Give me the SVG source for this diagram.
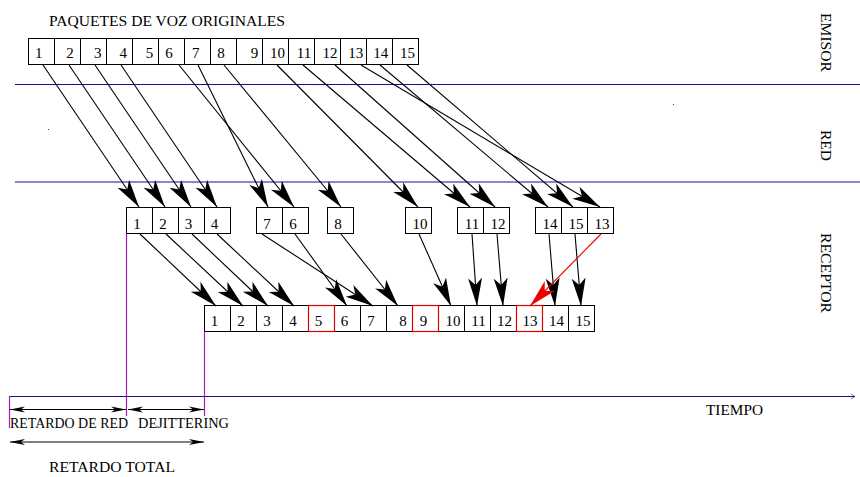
<svg xmlns="http://www.w3.org/2000/svg" width="860" height="477" viewBox="0 0 860 477">
  <style>
    .box { fill: #ffffff; stroke: #000000; stroke-width: 1; }
    .lost { fill: none; stroke: #e00000; stroke-width: 1.2; }
    .num { font-family: "Liberation Serif", "Times New Roman", serif; font-size: 15px; fill: #000000; text-anchor: middle; }
    .lbl { font-family: "Liberation Serif", "Times New Roman", serif; font-size: 14.5px; fill: #000000; }
    .side { font-family: "Liberation Serif", "Times New Roman", serif; font-size: 15.5px; fill: #000000; }
    .zone { stroke: #10109a; stroke-width: 1; fill: none; }
    .mark { stroke: #a020b0; stroke-width: 1.2; fill: none; }
    .flow { stroke: #000000; stroke-width: 1.1; fill: none; marker-end: url(#head); }
    .flow-red { stroke: #ee0000; stroke-width: 1.1; fill: none; marker-end: url(#head-red); }
    .span { stroke: #000000; stroke-width: 1; fill: none; marker-start: url(#tick-s); marker-end: url(#tick-e); }
  </style>
  <defs>
    <marker id="head" markerUnits="userSpaceOnUse" markerWidth="30" markerHeight="16" viewBox="0 0 30 16" refX="28" refY="8" orient="auto">
      <path d="M0,1 L28,8 L0,15 L7,8 Z" fill="#000000"/>
    </marker>
    <marker id="head-red" markerUnits="userSpaceOnUse" markerWidth="30" markerHeight="16" viewBox="0 0 30 16" refX="28" refY="8" orient="auto">
      <path d="M0,1 L28,8 L0,15 L7,8 Z" fill="#ee0000"/>
    </marker>
    <marker id="tick-e" markerUnits="userSpaceOnUse" markerWidth="16" markerHeight="8" viewBox="0 0 16 8" refX="15" refY="4" orient="auto">
      <path d="M0,1 L15,4 L0,7 L4,4 Z" fill="#000000"/>
    </marker>
    <marker id="tick-s" markerUnits="userSpaceOnUse" markerWidth="16" markerHeight="8" viewBox="0 0 16 8" refX="1" refY="4" orient="auto">
      <path d="M16,1 L1,4 L16,7 L12,4 Z" fill="#000000"/>
    </marker>
  </defs>
  <rect width="860" height="477" fill="#ffffff"/>

  <!-- zone separators and time axis -->
  <g id="zones">
    <line class="zone" x1="15" y1="84.5" x2="860" y2="84.5"/>
    <line class="zone" x1="15" y1="182" x2="860" y2="182"/>
    <line class="zone" x1="9" y1="396.5" x2="855" y2="396.5"/>
    <path d="M851,394 L855,396.5 L851,399" fill="none" stroke="#5050c0" stroke-width="0.8"/>
    <rect x="48" y="129" width="1" height="1" fill="#3030c0"/>
    <rect x="673" y="104" width="1" height="1" fill="#3030c0"/>
  </g>

  <!-- zone titles -->
  <g id="titles">
    <text class="lbl" x="49" y="26" font-size="15.5" textLength="236" lengthAdjust="spacingAndGlyphs">PAQUETES DE VOZ ORIGINALES</text>
    <text class="side" transform="translate(821,13) rotate(90)" textLength="59" lengthAdjust="spacingAndGlyphs">EMISOR</text>
    <text class="side" transform="translate(821,130) rotate(90)" textLength="31" lengthAdjust="spacingAndGlyphs">RED</text>
    <text class="side" transform="translate(821,233) rotate(90)" textLength="80" lengthAdjust="spacingAndGlyphs">RECEPTOR</text>
    <text class="lbl" x="706" y="415" textLength="57" lengthAdjust="spacingAndGlyphs">TIEMPO</text>
  </g>

  <!-- sent packets -->
  <g id="sender">
    <rect class="box" x="28.5" y="38.5" width="26" height="26"/>
    <rect class="box" x="54.5" y="38.5" width="26" height="26"/>
    <rect class="box" x="80.5" y="38.5" width="26" height="26"/>
    <rect class="box" x="106.5" y="38.5" width="26" height="26"/>
    <rect class="box" x="132.5" y="38.5" width="26" height="26"/>
    <rect class="box" x="158.5" y="38.5" width="26" height="26"/>
    <rect class="box" x="184.5" y="38.5" width="26" height="26"/>
    <rect class="box" x="210.5" y="38.5" width="26" height="26"/>
    <rect class="box" x="236.5" y="38.5" width="26" height="26"/>
    <rect class="box" x="262.5" y="38.5" width="26" height="26"/>
    <rect class="box" x="288.5" y="38.5" width="26" height="26"/>
    <rect class="box" x="314.5" y="38.5" width="26" height="26"/>
    <rect class="box" x="340.5" y="38.5" width="26" height="26"/>
    <rect class="box" x="366.5" y="38.5" width="26" height="26"/>
    <rect class="box" x="392.5" y="38.5" width="26" height="26"/>
    <text class="num" x="38.8" y="58">1</text>
    <text class="num" x="70" y="58">2</text>
    <text class="num" x="97.7" y="58">3</text>
    <text class="num" x="123.3" y="58">4</text>
    <text class="num" x="149.5" y="58">5</text>
    <text class="num" x="169" y="58">6</text>
    <text class="num" x="195.7" y="58">7</text>
    <text class="num" x="221" y="58">8</text>
    <text class="num" x="254.5" y="58">9</text>
    <text class="num" x="277.5" y="58">10</text>
    <text class="num" x="304" y="58">11</text>
    <text class="num" x="330" y="58">12</text>
    <text class="num" x="355.8" y="58">13</text>
    <text class="num" x="380.8" y="58">14</text>
    <text class="num" x="407.5" y="58">15</text>
  </g>

  <!-- packets as they arrive from the network -->
  <g id="arrivals">
    <rect class="box" x="126.5" y="207.5" width="26" height="26"/>
    <rect class="box" x="152.5" y="207.5" width="26" height="26"/>
    <rect class="box" x="178.5" y="207.5" width="26" height="26"/>
    <rect class="box" x="204.5" y="207.5" width="26" height="26"/>
    <rect class="box" x="256.5" y="207.5" width="26" height="26"/>
    <rect class="box" x="282.5" y="207.5" width="26" height="26"/>
    <rect class="box" x="327.5" y="207.5" width="26" height="26"/>
    <rect class="box" x="405.5" y="207.5" width="26" height="26"/>
    <rect class="box" x="457.5" y="207.5" width="26" height="26"/>
    <rect class="box" x="483.5" y="207.5" width="26" height="26"/>
    <rect class="box" x="535.5" y="207.5" width="26" height="26"/>
    <rect class="box" x="561.5" y="207.5" width="26" height="26"/>
    <rect class="box" x="587.5" y="207.5" width="26" height="26"/>
    <text class="num" x="137" y="229">1</text>
    <text class="num" x="163" y="229">2</text>
    <text class="num" x="188.5" y="229">3</text>
    <text class="num" x="214.5" y="229">4</text>
    <text class="num" x="267" y="229">7</text>
    <text class="num" x="293" y="229">6</text>
    <text class="num" x="338" y="229">8</text>
    <text class="num" x="420" y="229">10</text>
    <text class="num" x="472" y="229">11</text>
    <text class="num" x="498" y="229">12</text>
    <text class="num" x="550" y="229">14</text>
    <text class="num" x="576" y="229">15</text>
    <text class="num" x="602" y="229">13</text>
  </g>

  <!-- playout buffer -->
  <g id="playout">
    <rect class="box" x="204.5" y="305.5" width="26" height="26"/>
    <rect class="box" x="230.5" y="305.5" width="26" height="26"/>
    <rect class="box" x="256.5" y="305.5" width="26" height="26"/>
    <rect class="box" x="282.5" y="305.5" width="26" height="26"/>
    <rect class="box" x="308.5" y="305.5" width="26" height="26"/>
    <rect class="box" x="334.5" y="305.5" width="26" height="26"/>
    <rect class="box" x="360.5" y="305.5" width="26" height="26"/>
    <rect class="box" x="386.5" y="305.5" width="26" height="26"/>
    <rect class="box" x="412.5" y="305.5" width="26" height="26"/>
    <rect class="box" x="438.5" y="305.5" width="26" height="26"/>
    <rect class="box" x="464.5" y="305.5" width="26" height="26"/>
    <rect class="box" x="490.5" y="305.5" width="26" height="26"/>
    <rect class="box" x="516.5" y="305.5" width="26" height="26"/>
    <rect class="box" x="542.5" y="305.5" width="26" height="26"/>
    <rect class="box" x="568.5" y="305.5" width="26" height="26"/>
    <rect class="lost" x="308.5" y="305.5" width="26" height="26"/>
    <rect class="lost" x="412.5" y="305.5" width="26" height="26"/>
    <rect class="lost" x="516.5" y="305.5" width="26" height="26"/>
    <text class="num" x="214.5" y="326">1</text>
    <text class="num" x="241" y="326">2</text>
    <text class="num" x="267" y="326">3</text>
    <text class="num" x="293" y="326">4</text>
    <text class="num" x="318.5" y="326">5</text>
    <text class="num" x="344.5" y="326">6</text>
    <text class="num" x="371" y="326">7</text>
    <text class="num" x="403" y="326">8</text>
    <text class="num" x="423.5" y="326">9</text>
    <text class="num" x="453" y="326">10</text>
    <text class="num" x="478.5" y="326">11</text>
    <text class="num" x="504.5" y="326">12</text>
    <text class="num" x="530" y="326">13</text>
    <text class="num" x="556.5" y="326">14</text>
    <text class="num" x="583" y="326">15</text>
  </g>

  <!-- packet transfers -->
  <g id="connectors">
    <line class="flow" x1="43" y1="65" x2="139" y2="207"/>
    <line class="flow" x1="69" y1="65" x2="165" y2="207"/>
    <line class="flow" x1="95" y1="65" x2="191" y2="207"/>
    <line class="flow" x1="121" y1="65" x2="217" y2="207"/>
    <line class="flow" x1="179" y1="65" x2="294" y2="207"/>
    <line class="flow" x1="198" y1="65" x2="268" y2="207"/>
    <line class="flow" x1="224" y1="65" x2="341" y2="207"/>
    <line class="flow" x1="277" y1="65" x2="418" y2="207"/>
    <line class="flow" x1="303" y1="65" x2="470" y2="207"/>
    <line class="flow" x1="335" y1="65" x2="495" y2="207"/>
    <line class="flow" x1="361" y1="65" x2="600" y2="207"/>
    <line class="flow" x1="380" y1="65" x2="548" y2="207"/>
    <line class="flow" x1="407" y1="65" x2="573" y2="207"/>

    <line class="flow" x1="140" y1="234" x2="216" y2="306"/>
    <line class="flow" x1="166" y1="234" x2="243" y2="306"/>
    <line class="flow" x1="192" y1="234" x2="268" y2="306"/>
    <line class="flow" x1="217" y1="234" x2="294" y2="306"/>
    <line class="flow" x1="262" y1="234" x2="373" y2="306"/>
    <line class="flow" x1="295" y1="234" x2="347" y2="306"/>
    <line class="flow" x1="341" y1="234" x2="398" y2="306"/>
    <line class="flow" x1="419" y1="234" x2="451" y2="306"/>
    <line class="flow" x1="472" y1="234" x2="477" y2="306"/>
    <line class="flow" x1="497" y1="234" x2="503" y2="306"/>
    <line class="flow" x1="549" y1="234" x2="555" y2="306"/>
    <line class="flow" x1="575" y1="234" x2="581" y2="306"/>
    <line class="flow-red" x1="601" y1="234" x2="530" y2="306"/>
  </g>

  <!-- delay markers -->
  <g id="delays">
    <line class="mark" x1="126.5" y1="233.5" x2="126.5" y2="416"/>
    <line class="mark" x1="204.5" y1="331.5" x2="204.5" y2="416"/>
    <line class="mark" x1="9.5" y1="396" x2="9.5" y2="428"/>
    <line class="span" x1="10" y1="409.5" x2="126" y2="409.5"/>
    <line class="span" x1="128" y1="409.5" x2="204" y2="409.5"/>
    <line class="span" x1="10" y1="442" x2="204" y2="442"/>
    <text class="lbl" x="10" y="428" textLength="118" lengthAdjust="spacingAndGlyphs">RETARDO DE RED</text>
    <text class="lbl" x="138" y="428" textLength="91" lengthAdjust="spacingAndGlyphs">DEJITTERING</text>
    <text class="lbl" x="49" y="471.5" textLength="126" lengthAdjust="spacingAndGlyphs">RETARDO TOTAL</text>
  </g>
</svg>
